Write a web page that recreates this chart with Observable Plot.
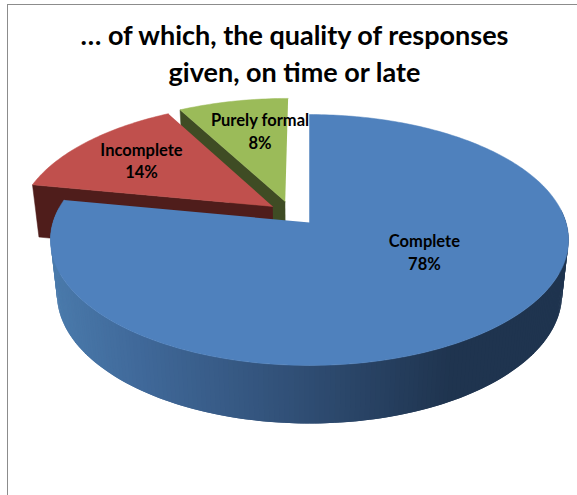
<!DOCTYPE html>
<html><head><meta charset="utf-8">
<style>
html,body{margin:0;padding:0;background:#fff;overflow:hidden}
#frame{position:absolute;left:7px;top:4px;width:570px;height:491px;border-left:1px solid #8c8c8c;border-top:1px solid #8c8c8c;box-sizing:border-box;pointer-events:none}
#title{height:90px;box-sizing:border-box;padding-top:16px;margin-left:12px;text-align:center;font:700 27px/37px Lato,sans-serif;color:#000}
svg{display:block}
</style>
<script src="https://cdn.jsdelivr.net/npm/d3@7"></script>
<script src="https://cdn.jsdelivr.net/npm/@observablehq/plot@0.6"></script>
</head><body>
<div id="frame"></div>
<div id="title">… of which, the quality of responses<br>given, on time or late</div>
<div id="chart"></div>
<script>
// Data
const categories = ["Complete", "Incomplete", "Purely formal"];
const shares = [78, 14, 8];

// Styles and 3D view
const topColors = ["#4f81bd", "#c0504d", "#9bbb59"];
const wallColors = [null, "#4f1d1b", "#3f4c24"];
const explodeX = [0, -0.146, -0.097];
const explodeZ = [0, 0.133, 0.174];
const labelU = [0.448, -0.655, -0.193];
const labelV = [-0.234, 0.51, 0.75];
const persp = 0.1395, depthShrink = 0.025, depthDrop = 0.447;
const rad = Math.PI / 180;

// Perspective projection of a point on the disc (h = 0 top, h = 1 base)
function project(i, theta, r, h) {
  const X = r * Math.sin(theta * rad) + explodeX[i];
  const Z = r * Math.cos(theta * rad) + explodeZ[i];
  const den = 1 + persp * Z + depthShrink * h;
  return {u: X / den, v: (Z - depthDrop * h) / den};
}
const steps = (a, b) => d3.range(a, b, 1).concat([b]);

const cumulative = d3.cumsum(shares).map(d => d * 3.6);
const starts = [0, ...cumulative.slice(0, -1)];

function face(i) {
  return [project(i, 0, 0, 0), ...steps(starts[i], cumulative[i]).map(t => project(i, t, 1, 0))];
}
function radialWall(i) {
  const t = starts[i];
  return [project(i, t, 0, 0), project(i, t, 1, 0), project(i, t, 1, 1), project(i, t, 0, 1)];
}
const shade = d3.scaleLinear()
  .domain([-0.98, -0.65, 0, 0.55, 1])
  .range(["#4a7aab", "#40699a", "#2f4d73", "#1f344f", "#1f344f"]).clamp(true);
// Only the part of the outer wall that faces the viewer, as overlapping strips so no seams show
const rimRows = steps(84, 276).slice(0, -1).flatMap((t, k) => {
  const n = t + 2;
  const c = shade(project(0, t, 1, 1).u);
  return [project(0, t, 1, 0), project(0, n, 1, 0), project(0, n, 1, 1), project(0, t, 1, 1)]
    .map(p => ({...p, id: k, c}));
});
const labels = categories.map((name, i) => ({
  text: name + "\n" + shares[i] + "%", u: labelU[i], v: labelV[i]
}));

const poly = (rows, fill) => Plot.line(rows, {x: "u", y: "v", fill, stroke: fill, strokeWidth: 0.5, curve: "linear"});

const pxU = p => (p - 309) / 256.5, pxV = p => (222 - p) / 123;
document.getElementById("chart").append(Plot.plot({
  width: 577, height: 405,
  marginTop: 0, marginRight: 0, marginBottom: 0, marginLeft: 0,
  x: {axis: null, domain: [pxU(0), pxU(577)], range: [0, 577]},
  y: {axis: null, domain: [pxV(90), pxV(495)], range: [0, 405]},
  color: {type: "identity"},
  style: {background: "transparent"},
  marks: [
    poly(radialWall(2), wallColors[2]),
    poly(face(2), topColors[2]),
    poly(radialWall(1), wallColors[1]),
    poly(face(1), topColors[1]),
    Plot.line(rimRows, {x: "u", y: "v", z: "id", fill: "c", stroke: "none", curve: "linear"}),
    poly(face(0), topColors[0]),
    Plot.text(labels, {x: "u", y: "v", text: "text", fontFamily: "Lato, sans-serif", fontWeight: 700,
      fontSize: 16.5, lineHeight: 1.35, fill: "#000", textAnchor: "middle"})
  ]
}));
</script>
</body></html>
